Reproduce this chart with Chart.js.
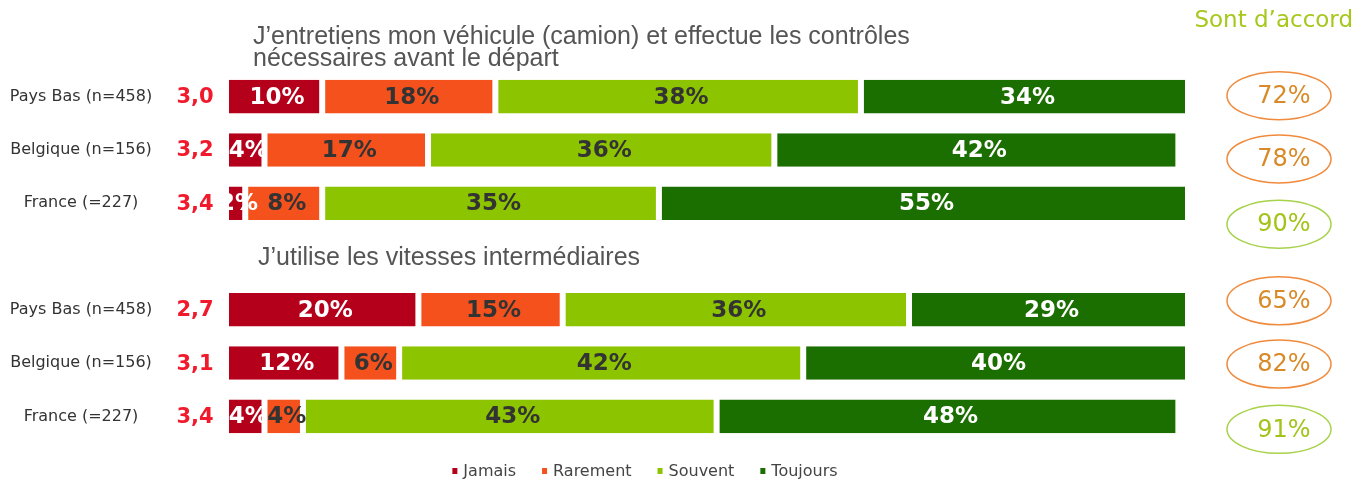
<!DOCTYPE html>
<html>
<head>
<meta charset="utf-8">
<script src="https://cdn.jsdelivr.net/npm/chart.js"></script>
<style>
  html, body { margin: 0; padding: 0; background: #fff; }
  #wrap { width: 1354px; height: 481px; position: relative; }
</style>
</head>
<body>
<div id="wrap"><canvas id="myChart"></canvas></div>
<script>
// rows of the chart (empty row = gap between the two questions)
var categories = ["Pays Bas (n=458)", "Belgique (n=156)", "France (=227)", "", "Pays Bas (n=458)", "Belgique (n=156)", "France (=227)"];
var seriesNames = ["Jamais", "Rarement", "Souvent", "Toujours"];
var jamais   = [10, 4, 2, null, 20, 12, 4];
var rarement = [18, 17, 8, null, 15, 6, 4];
var souvent  = [38, 36, 35, null, 36, 42, 43];
var toujours = [34, 42, 55, null, 29, 40, 48];
var scores   = ["3,0", "3,2", "3,4", "", "2,7", "3,1", "3,4"];
var accord   = [72, 78, 90, null, 65, 82, 91];
var question1 = ["J\u2019entretiens mon v\u00e9hicule (camion) et effectue les contr\u00f4les", "n\u00e9cessaires avant le d\u00e9part"];
var question2 = "J\u2019utilise les vitesses interm\u00e9diaires";
var accordTitle = "Sont d\u2019accord";

var barColors = ["#b5001b", "#f4511d", "#8cc400", "#1b6e00"];
var labelColors = ["#ffffff", "#333333", "#333333", "#ffffff"];

var sansFont = "'DejaVu Sans', sans-serif";
var titleFont = "'Liberation Sans', Arial, sans-serif";

// everything that is not a bar: row labels, scores, questions, ovals, legend
var extras = {
  id: "extras",
  afterDatasetsDraw: function (chart) {
    var ctx = chart.ctx;
    var y = chart.scales.y;
    var area = chart.chartArea;
    ctx.save();
    ctx.textBaseline = "middle";

    // percentages inside the bars
    ctx.font = "bold 23px " + sansFont;
    ctx.textAlign = "center";
    chart.data.datasets.forEach(function (ds, d) {
      var meta = chart.getDatasetMeta(d);
      meta.data.forEach(function (bar, i) {
        if (ds.data[i] == null) return;
        var c = bar.getCenterPoint();
        ctx.fillStyle = labelColors[d];
        ctx.fillText(ds.data[i] + "%", c.x + 3, c.y + 1);
      });
    });

    // country labels + mean score
    categories.forEach(function (cat, i) {
      if (!cat) return;
      var py = y.getPixelForValue(i);
      ctx.font = "16px " + sansFont;
      ctx.fillStyle = "#333";
      ctx.textAlign = "center";
      ctx.fillText(cat, 81, py);
      ctx.font = "bold 21px " + sansFont;
      ctx.fillStyle = "#f01a2c";
      ctx.fillText(scores[i], 195, py + 1);
    });

    // questions
    ctx.font = "25px " + titleFont;
    ctx.fillStyle = "#555";
    ctx.textAlign = "left";
    ctx.fillText(question1[0], 253, area.top - 33);
    ctx.fillText(question1[1], 253, area.top - 11);
    ctx.fillText(question2, 258, y.getPixelForValue(3) + 2);

    // "Sont d'accord" ovals on the right
    ctx.font = "23px " + sansFont;
    ctx.fillStyle = "#a6c81c";
    ctx.textAlign = "right";
    ctx.fillText(accordTitle, 1353, 21);
    var ovalShift = [-1, 9, 21, 0, -9, 1, 13];
    accord.forEach(function (v, i) {
      if (v == null) return;
      var oy = y.getPixelForValue(i) + ovalShift[i];
      var green = v >= 85;
      ctx.beginPath();
      ctx.ellipse(1279, oy, 52, 24, 0, 0, Math.PI * 2);
      ctx.lineWidth = 1.5;
      ctx.strokeStyle = green ? "#a8d24a" : "#f08a3c";
      ctx.stroke();
      ctx.font = "24px " + sansFont;
      ctx.fillStyle = green ? "#a2c41a" : "#d98a28";
      ctx.textAlign = "center";
      ctx.fillText(v + "%", 1284, oy + 1);
    });

    // legend
    ctx.font = "16px " + sansFont;
    var widths = seriesNames.map(function (n) { return ctx.measureText(n).width; });
    var total = 0;
    widths.forEach(function (w) { total += 11 + w; });
    total += 26 * (seriesNames.length - 1);
    var lx = 645 - total / 2;
    seriesNames.forEach(function (n, k) {
      ctx.fillStyle = barColors[k];
      ctx.fillRect(lx, 468, 5, 6);
      ctx.fillStyle = "#444";
      ctx.textAlign = "left";
      ctx.fillText(n, lx + 11, 472);
      lx += 11 + widths[k] + 26;
    });

    ctx.restore();
  }
};

var series = [jamais, rarement, souvent, toujours];
var datasets = series.map(function (vals, k) {
  return {
    label: seriesNames[k],
    data: vals,
    backgroundColor: barColors[k],
    borderColor: "#ffffff",
    borderWidth: { left: 3, right: 3, top: 0, bottom: 0 },
    borderSkipped: false,
    barPercentage: 0.63,
    categoryPercentage: 1
  };
});

new Chart("myChart", {
  type: "bar",
  data: { labels: categories, datasets: datasets },
  options: {
    indexAxis: "y",
    responsive: true,
    maintainAspectRatio: false,
    animation: false,
    layout: { padding: { left: 226, right: 166, top: 70, bottom: 38 } },
    scales: {
      x: { display: false, stacked: true, min: 0, max: 100 },
      y: { display: false, stacked: true }
    },
    plugins: {
      legend: { display: false },
      tooltip: { enabled: false }
    }
  },
  plugins: [extras]
});
</script>
</body>
</html>
